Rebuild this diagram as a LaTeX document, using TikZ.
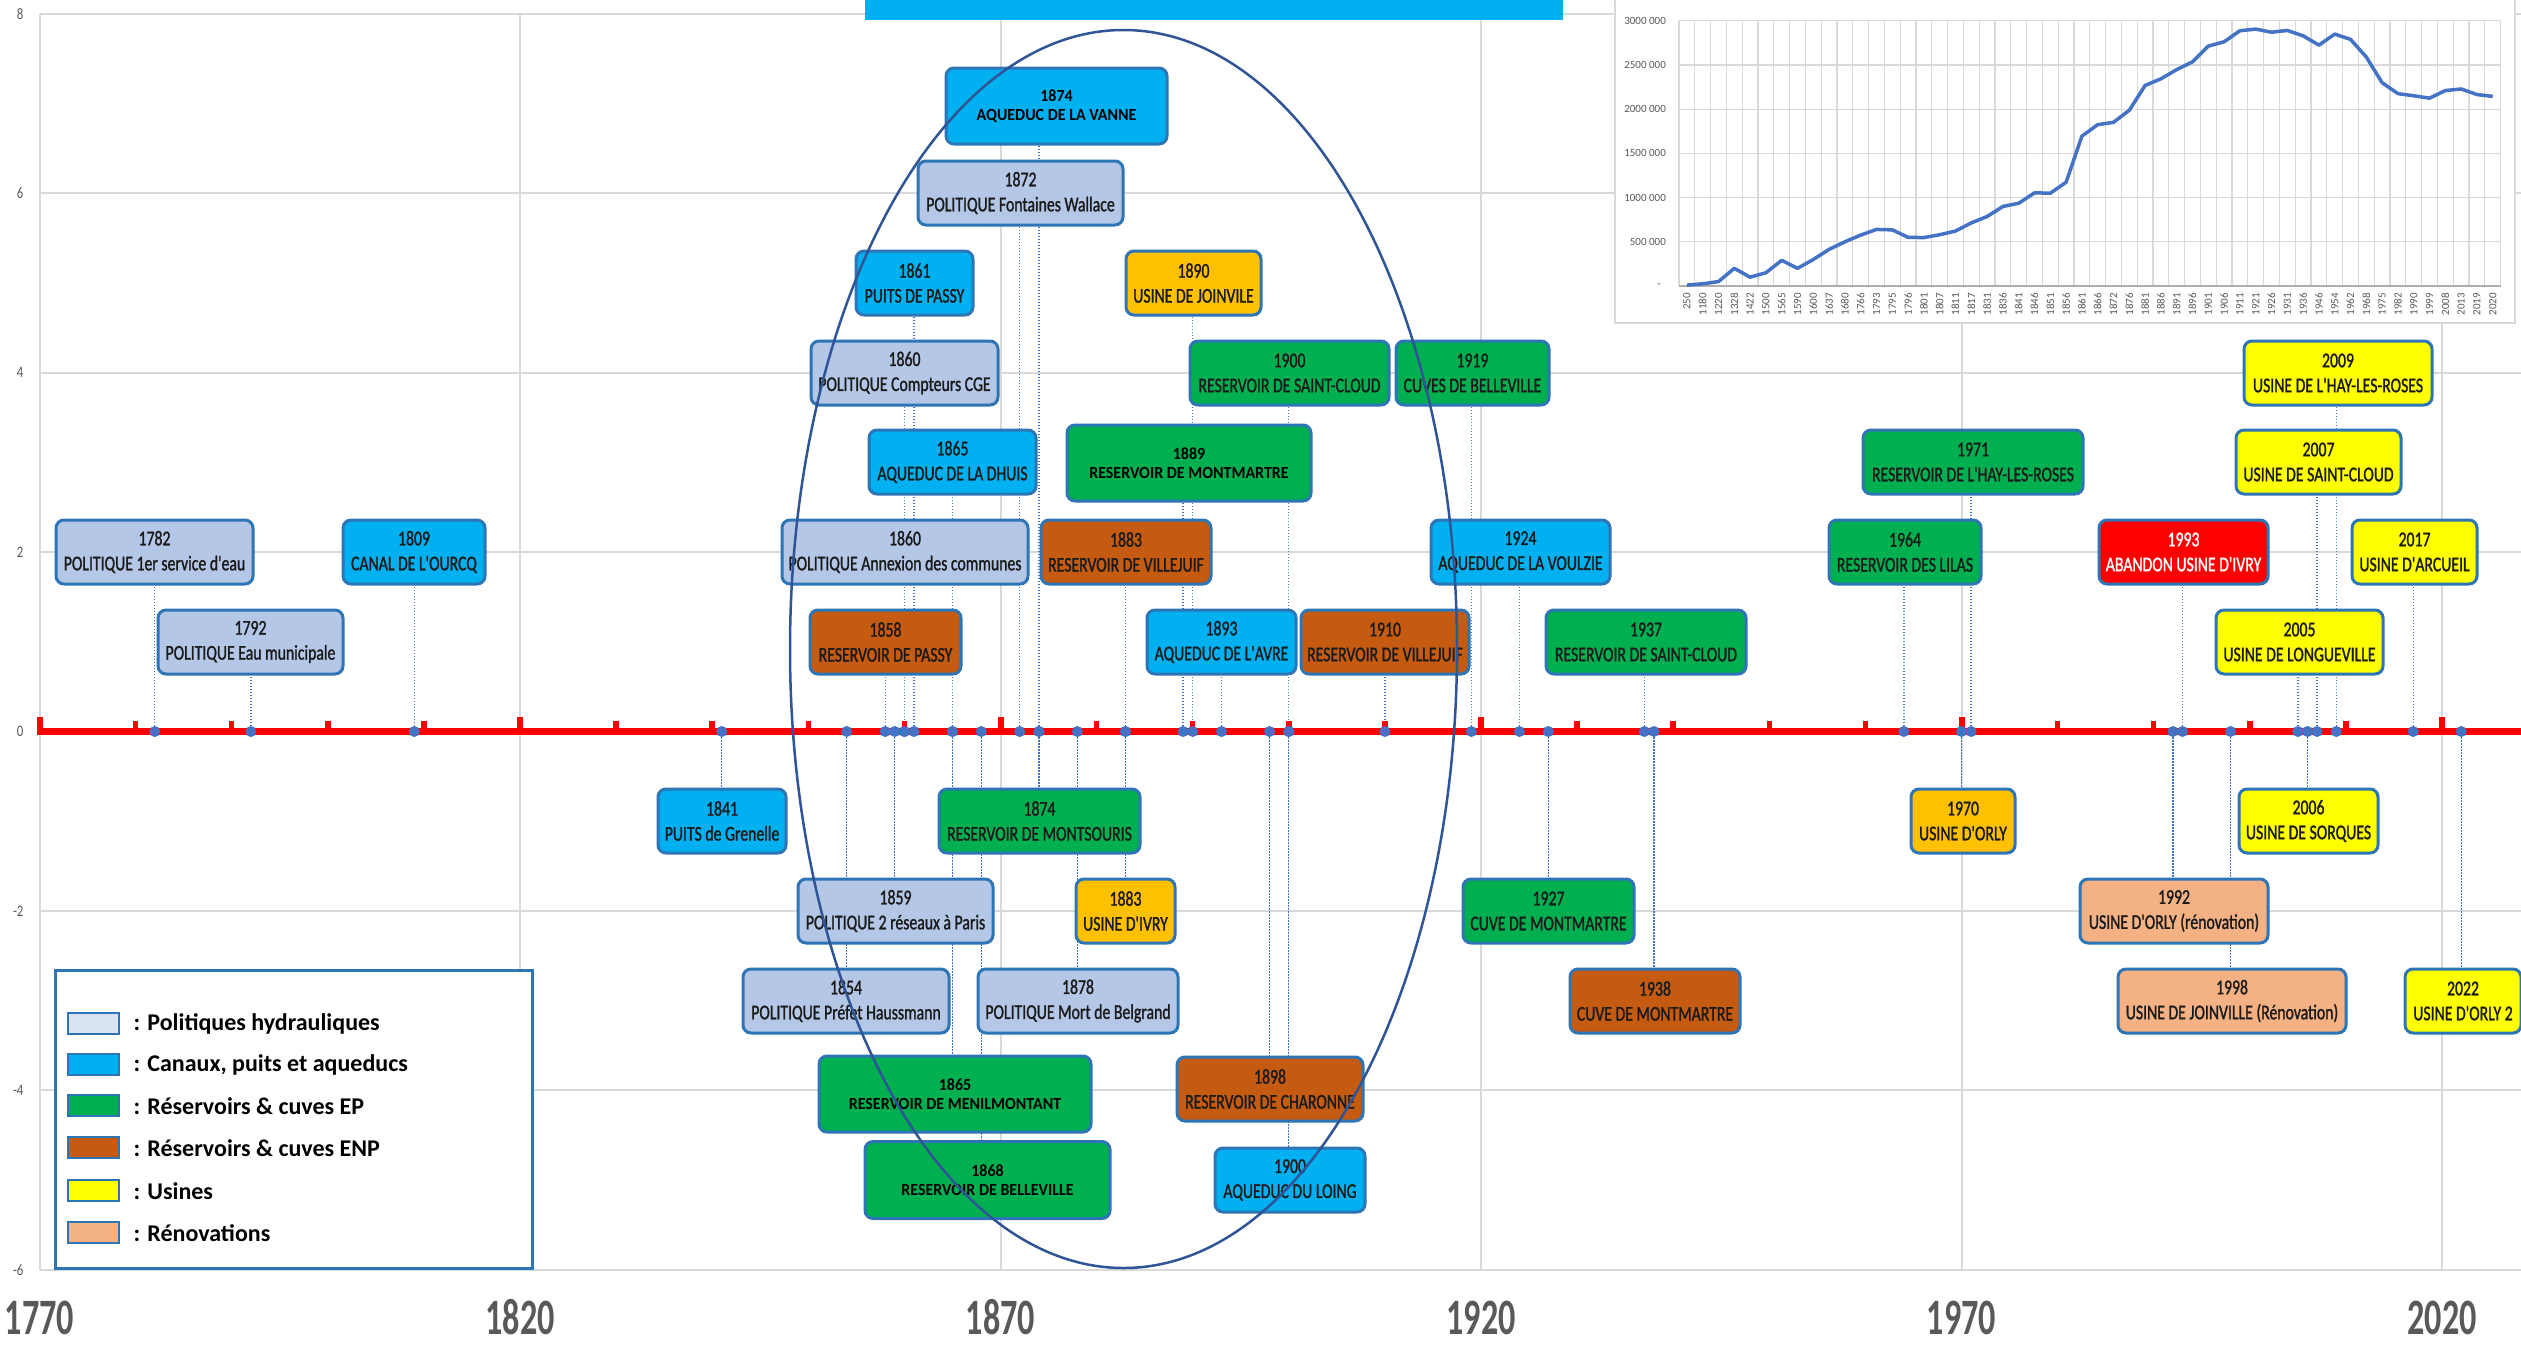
\documentclass[tikz,border=0pt]{standalone}
\usepackage{fontspec}
\setmainfont{Carlito}
\newfontfamily\evfont[FakeStretch=0.75,FakeBold=1.2]{Carlito}
\newfontfamily\bxfont[FakeStretch=0.94]{Carlito}
\newfontfamily\lgfont{Carlito}
\newfontfamily\axfont[FakeStretch=0.8]{Carlito}
\newfontfamily\yrfont[FakeStretch=0.67]{Carlito}
\pgfdeclarelayer{gridlayer}
\pgfdeclarelayer{connlayer}
\pgfsetlayers{gridlayer,connlayer,main}
\definecolor{cpol}{HTML}{B4C7E7}
\definecolor{ccan}{HTML}{00B0F0}
\definecolor{cep}{HTML}{00B050}
\definecolor{cenp}{HTML}{C55A11}
\definecolor{corg}{HTML}{FFC000}
\definecolor{cusi}{HTML}{FFFF00}
\definecolor{cren}{HTML}{F4B183}
\definecolor{cred}{HTML}{FF0000}
\definecolor{cbord}{HTML}{2E75B6}
\definecolor{cdot}{HTML}{4472C4}
\definecolor{cgrid}{HTML}{D9D9D9}
\definecolor{clab}{HTML}{595959}
\definecolor{cell}{HTML}{2F5597}
\definecolor{cleg}{HTML}{2E75B6}
\definecolor{clegpol}{HTML}{DAE3F3}
\definecolor{ctxt}{HTML}{1A1A1A}
\tikzset{
  evbox/.style={draw=cbord, line width=3pt, rounded corners=8pt, minimum height=64pt,
    inner xsep=2pt, inner ysep=0pt, align=center, text=ctxt,
    font=\evfont\fontsize{21}{25}\selectfont},
  bigbox/.style={evbox, minimum height=76pt, text=black, font=\bxfont\bfseries\fontsize{17}{19}\selectfont},
  kpol/.style={fill=cpol}, kcan/.style={fill=ccan}, kep/.style={fill=cep},
  kenp/.style={fill=cenp}, korg/.style={fill=corg}, kusi/.style={fill=cusi},
  kren/.style={fill=cren}, krouge/.style={fill=cred, text=white},
  evdot/.style={circle, fill=cdot, inner sep=0pt, minimum size=11pt},
  connline/.style={draw=cdot, line width=1.3pt, dash pattern=on 1.3pt off 1.7pt},
  gridl/.style={draw=cgrid, line width=2pt},
  ylab/.style={anchor=east, text=clab, font=\axfont\fontsize{16}{16}\selectfont},
  yearlab/.style={text=clab, anchor=base, inner sep=0pt, text depth=0pt,
    font=\yrfont\bfseries\fontsize{51}{51}\selectfont},
  swatch/.style={draw=cbord, line width=2pt, minimum width=51pt, minimum height=21pt, inner sep=0pt},
  leglab/.style={anchor=west, text=black, font=\lgfont\bfseries\fontsize{24}{26}\selectfont},
  popgrid/.style={draw=cgrid, line width=1.2pt},
  poplab/.style={text=clab, font=\fontsize{11}{11}\selectfont, inner sep=0pt},
}
\begin{document}
\begin{tikzpicture}[x=1pt,y=-1pt]
\useasboundingbox (0,0) rectangle (2521,1347);
\begin{pgfonlayer}{gridlayer}
\fill[white] (0,0) rectangle (2521,1347);
\foreach \gy in {13.9,193.3,372.7,552.1,731.5,910.9,1090.3,1269.7}
  \draw[gridl] (39.5,\gy) -- (2521,\gy);
\foreach \g in {1770,1820,...,2020}
  \draw[gridl] ({39.5+(\g-1770)*9.61},13.9) -- ({39.5+(\g-1770)*9.61},1269.7);
\end{pgfonlayer}

% axis labels
\foreach \v/\gy in {8/13.9,6/193.3,4/372.7,2/552.1,0/731.5,-2/910.9,-4/1090.3,-6/1269.7}
  \node[ylab] (yl\v) at (27,\gy) {\v};
\foreach \g in {1770,1820,...,2020}
  \node[yearlab] (yr\g) at ({39.5+(\g-1770)*9.61},1334) {\g};

% red time axis
\draw[cred, line width=7pt] (37,731.5) -- (2521,731.5);
\foreach \t in {1770,1780,...,2020}
  \fill[cred] ({39.5+(\t-1770)*9.61-2.75},731.5) rectangle ++(5.5,-11);
\foreach \t in {1770,1820,...,2020}
  \fill[cred] ({39.5+(\t-1770)*9.61-3},731.5) rectangle ++(6,-15);

% upper events
\node[evbox,kpol,minimum width=197pt] (b1782) at (154.5,552) {1782\\POLITIQUE 1er service d'eau};
\node[evbox,kpol,minimum width=185pt] (b1792) at (250.5,642) {1792\\POLITIQUE Eau municipale};
\node[evbox,kcan,minimum width=142pt] (b1809) at (414,552) {1809\\CANAL DE L'OURCQ};
\node[evbox,kcan,minimum width=117pt] (b1861) at (914.5,283) {1861\\PUITS DE PASSY};
\node[evbox,kpol,minimum width=187pt] (b1860c) at (904.5,373) {1860\\POLITIQUE Compteurs CGE};
\node[evbox,kcan,minimum width=167pt] (b1865d) at (952.5,462) {1865\\AQUEDUC DE LA DHUIS};
\node[evbox,kpol,minimum width=246pt] (b1860a) at (905,552) {1860\\POLITIQUE Annexion des communes};
\node[evbox,kenp,minimum width=151pt] (b1858) at (885.5,642) {1858\\RESERVOIR DE PASSY};
\node[bigbox,kcan,minimum width=221pt] (b1874v) at (1056.5,106) {1874\\AQUEDUC DE LA VANNE};
\node[evbox,kpol,minimum width=205pt] (b1872) at (1020.5,193) {1872\\POLITIQUE Fontaines Wallace};
\node[evbox,korg,minimum width=135pt] (b1890) at (1193.5,283) {1890\\USINE DE JOINVILE};
\node[evbox,kep,minimum width=199pt] (b1900s) at (1289.5,373) {1900\\RESERVOIR DE SAINT-CLOUD};
\node[evbox,kep,minimum width=153pt] (b1919) at (1472.5,373) {1919\\CUVES DE BELLEVILLE};
\node[bigbox,kep,minimum width=244pt] (b1889) at (1189,463) {1889\\RESERVOIR DE MONTMARTRE};
\node[evbox,kenp,minimum width=170pt] (b1883v) at (1126,552) {1883\\RESERVOIR DE VILLEJUIF};
\node[evbox,kcan,minimum width=179pt] (b1924) at (1520.5,552) {1924\\AQUEDUC DE LA VOULZIE};
\node[evbox,kcan,minimum width=149pt] (b1893) at (1221.5,642) {1893\\AQUEDUC DE L'AVRE};
\node[evbox,kenp,minimum width=168pt] (b1910) at (1385,642) {1910\\RESERVOIR DE VILLEJUIF};
\node[evbox,kep,minimum width=200pt] (b1937) at (1646,642) {1937\\RESERVOIR DE SAINT-CLOUD};
\node[evbox,kep,minimum width=220pt] (b1971) at (1973,462) {1971\\RESERVOIR DE L'HAY-LES-ROSES};
\node[evbox,kep,minimum width=152pt] (b1964) at (1905,552) {1964\\RESERVOIR DES LILAS};
\node[evbox,krouge,minimum width=169pt] (b1993) at (2183.5,552) {1993\\ABANDON USINE D'IVRY};
\node[evbox,kusi,minimum width=125pt] (b2017) at (2414.5,552) {2017\\USINE D'ARCUEIL};
\node[evbox,kusi,minimum width=188pt] (b2009) at (2338,373) {2009\\USINE DE L'HAY-LES-ROSES};
\node[evbox,kusi,minimum width=165pt] (b2007) at (2318.5,462) {2007\\USINE DE SAINT-CLOUD};
\node[evbox,kusi,minimum width=167pt] (b2005) at (2299.5,642) {2005\\USINE DE LONGUEVILLE};

% lower events
\node[evbox,kcan,minimum width=128pt] (b1841) at (722,821) {1841\\PUITS de Grenelle};
\node[evbox,kep,minimum width=201pt] (b1874m) at (1039.5,821) {1874\\RESERVOIR DE MONTSOURIS};
\node[evbox,kpol,minimum width=195pt] (b1859) at (895.5,911) {1859\\POLITIQUE 2 réseaux à Paris};
\node[evbox,korg,minimum width=99pt] (b1883i) at (1125.5,911) {1883\\USINE D'IVRY};
\node[evbox,kep,minimum width=171pt] (b1927) at (1548.5,911) {1927\\CUVE DE MONTMARTRE};
\node[evbox,kpol,minimum width=206pt] (b1854) at (846,1001) {1854\\POLITIQUE Préfet Haussmann};
\node[evbox,kpol,minimum width=200pt] (b1878) at (1078,1001) {1878\\POLITIQUE Mort de Belgrand};
\node[evbox,kenp,minimum width=170pt] (b1938) at (1655,1001) {1938\\CUVE DE MONTMARTRE};
\node[bigbox,kep,minimum width=272pt] (b1865m) at (955,1094) {1865\\RESERVOIR DE MENILMONTANT};
\node[evbox,kenp,minimum width=186pt] (b1898) at (1270,1089) {1898\\RESERVOIR DE CHARONNE};
\node[bigbox,kep,minimum width=245pt,minimum height=77pt] (b1868) at (987.5,1180) {1868\\RESERVOIR DE BELLEVILLE};
\node[evbox,kcan,minimum width=150pt] (b1900l) at (1290,1180) {1900\\AQUEDUC DU LOING};
\node[evbox,korg,minimum width=104pt] (b1970) at (1963,821) {1970\\USINE D'ORLY};
\node[evbox,kusi,minimum width=139pt] (b2006) at (2308.5,821) {2006\\USINE DE SORQUES};
\node[evbox,kren,minimum width=188pt] (b1992) at (2174,911) {1992\\USINE D'ORLY (rénovation)};
\node[evbox,kren,minimum width=228pt] (b1998) at (2232,1001) {1998\\USINE DE JOINVILLE (Rénovation)};
\node[evbox,kusi,minimum width=116pt] (b2022) at (2463,1001) {2022\\USINE D'ORLY 2};

% event dots on the axis
\foreach \yy/\nm in {1782/b1782,1792/b1792,1809/b1809,1861/b1861,1860/b1860c,1865/b1865d,
  1860/b1860a,1858/b1858,1874/b1874v,1872/b1872,1890/b1890,1900/b1900s,1919/b1919,
  1889/b1889,1883/b1883v,1924/b1924,1893/b1893,1910/b1910,1937/b1937,1971/b1971,
  1964/b1964,1993/b1993,2017/b2017,2009/b2009,2007/b2007,2005/b2005,
  1841/b1841,1874/b1874m,1859/b1859,1883/b1883i,1927/b1927,1854/b1854,1878/b1878,
  1938/b1938,1865/b1865m,1898/b1898,1868/b1868,1900/b1900l,1970/b1970,2006/b2006,
  1992/b1992,1998/b1998,2022/b2022}
  \node[evdot] (d\nm) at ({39.5+(\yy-1770)*9.61},731.5) {};

% dotted connectors
\begin{pgfonlayer}{connlayer}
\foreach \nm in {b1782,b1792,b1809,b1861,b1860c,b1865d,b1860a,b1858,b1874v,b1872,b1890,
  b1900s,b1919,b1889,b1883v,b1924,b1893,b1910,b1937,b1971,b1964,b1993,b2017,b2009,
  b2007,b2005,b1841,b1874m,b1859,b1883i,b1927,b1854,b1878,b1938,b1865m,b1898,b1868,
  b1900l,b1970,b2006,b1992,b1998,b2022}
  \draw[connline] (d\nm) -- (d\nm |- \nm);
\end{pgfonlayer}

% ellipse highlight
\draw[cell, line width=2.5pt] (1123.5,649) ellipse [x radius=333.5, y radius=619];

% legend
\node[draw=cleg, line width=3pt, fill=white, minimum width=477pt, minimum height=298pt, inner sep=0pt] (legend) at (294,1119) {};
\node[swatch, fill=clegpol] (s1) at (93.5,1023) {};
\node[swatch, fill=ccan] (s2) at (93.5,1064) {};
\node[swatch, fill=cep] (s3) at (93.5,1105) {};
\node[swatch, fill=cenp] (s4) at (93.5,1147) {};
\node[swatch, fill=cusi] (s5) at (93.5,1190) {};
\node[swatch, fill=cren] (s6) at (93.5,1232) {};
\node[leglab] (l1) at (130,1024) {: Politiques hydrauliques};
\node[leglab] (l2) at (130,1065) {: Canaux, puits et aqueducs};
\node[leglab] (l3) at (130,1106) {: Réservoirs \& cuves EP};
\node[leglab] (l4) at (130,1148) {: Réservoirs \& cuves ENP};
\node[leglab] (l5) at (130,1191) {: Usines};
\node[leglab] (l6) at (130,1233) {: Rénovations};

% title banner (text cut off at the top)
\fill[ccan] (865,-1) rectangle (1563,20);

% population inset
\filldraw[fill=white, draw=cgrid, line width=2pt] (1615,-3) rectangle (2515,323);
\foreach \k in {1,...,6}
  \draw[popgrid] (1679,{286-44.2*\k}) -- (2501,{286-44.2*\k});
\foreach \j in {0,...,52}
  \draw[popgrid] ({1679+15.8*\j},20.8) -- ({1679+15.8*\j},286);
\draw[draw=cgrid!80!black, line width=1.5pt] (1679,286) -- (2501,286);
\foreach \k/\lab in {1/500 000,2/1000 000,3/1500 000,4/2000 000,5/2500 000,6/3000 000}
  \node[poplab, anchor=east] (py\k) at (1666,{286-44.2*\k}) {\lab};
\node[poplab, anchor=east] (py0) at (1661,286) {-};
\foreach \lab [count=\i] in {250,1180,1220,1328,1422,1500,1565,1590,1600,1637,1680,1766,
  1793,1795,1796,1801,1807,1811,1817,1831,1836,1841,1846,1851,1856,1861,1866,1872,1876,
  1881,1886,1891,1896,1901,1906,1911,1921,1926,1931,1936,1946,1954,1962,1968,1975,1982,
  1990,1999,2008,2013,2019,2020}
  \node[poplab, rotate=90, anchor=east] (px\i) at ({1686.9+15.8*(\i-1)},293) {\lab};
\foreach \v [count=\i] in {10,25,50,200,100,150,290,200,300,415,500,576,640,635,550,548,
  580,622,714,786,900,936,1054,1050,1174,1696,1825,1852,1988,2269,2344,2448,2536,2714,
  2763,2888,2906,2871,2891,2830,2725,2850,2790,2590,2300,2176,2152,2125,2211,2229,2166,2145}
  \coordinate (p\i) at ({1686.9+15.8*(\i-1)},{286-0.0884*\v});
\draw[cdot, line width=3.5pt, line join=round] (p1) \foreach \i in {2,...,52} { -- (p\i) };
\end{tikzpicture}
\end{document}
